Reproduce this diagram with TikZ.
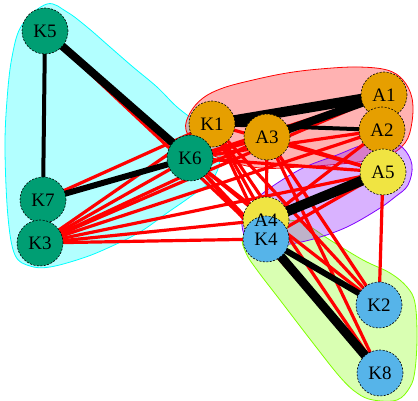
\documentclass[tikz,border=0pt]{standalone}
\usepackage{fontspec}
\setmainfont{Liberation Serif}
\definecolor{kgreen}{HTML}{009E73}
\definecolor{korange}{HTML}{E69F00}
\definecolor{kyellow}{HTML}{F0E442}
\definecolor{kblue}{HTML}{56B4E9}
\definecolor{hred}{HTML}{FF0000}
\definecolor{hgreen}{HTML}{80FF00}
\definecolor{hcyan}{HTML}{00FFFF}
\definecolor{hpurple}{HTML}{8000FF}
\pgfdeclarelayer{hulls}
\pgfdeclarelayer{edges}
\pgfsetlayers{hulls,edges,main}
\begin{document}
\begin{tikzpicture}[x=1pt,y=1pt,
  vtx/.style={circle, draw=black, line width=0.6pt, dash pattern=on 2pt off 1.5pt,
    minimum size=46pt, inner sep=0pt, fill=#1},
  lbl/.style={inner sep=0pt, font=\fontsize{19}{19}\selectfont},
  hull/.style={fill=#1, fill opacity=0.3, draw=#1, line width=0.8pt},
  tie/.style={draw=red, line width=3.2pt},
  bond/.style={draw=black, line width=#1}]
\useasboundingbox (0,0) rectangle (418,401);

% vertex discs
\node[vtx=kgreen]  (K5) at (45,370) {};
\node[vtx=kgreen]  (K7) at (43,201) {};
\node[vtx=kgreen]  (K3) at (40,158) {};
\node[vtx=korange] (K1) at (212,277) {};
\node[vtx=kgreen]  (K6) at (190,243) {};
\node[vtx=korange] (A1) at (384,306) {};
\node[vtx=korange] (A2) at (382,271) {};
\node[vtx=korange] (A3) at (267,264) {};
\node[vtx=kyellow] (A5) at (383,229) {};
\node[vtx=kyellow] (A4) at (266,181) {};
\node[vtx=kblue]   (K4) at (266,162) {};
\node[vtx=kblue]   (K2) at (379,96) {};
\node[vtx=kblue]   (K8) at (380,28) {};

% vertex labels, set above all discs
\foreach \v in {K5,K7,K3,K1,K6,A1,A2,A3,A5,A4,K4,K2,K8}
  \node[lbl] (\v-name) at (\v.center) {\v};

% group hulls (traced in image coordinates, y downwards)
\begin{pgfonlayer}{hulls}
\begin{scope}[yshift=401pt, y=-1pt]
\draw[hull=hcyan] plot[smooth cycle, tension=0.6] coordinates {
  (47,4) (67,12) (87,27) (110,47) (133,67) (157,87) (177,107) (200,125)
  (216,142) (220,160) (212,180) (190,197) (167,213) (140,232) (110,247)
  (83,258) (50,267) (30,266) (15,255) (8,217) (5,150) (7,100) (12,57) (22,25)};
\draw[hull=hred] plot[smooth cycle, tension=0.6] coordinates {
  (190,113) (203,98) (223,88) (253,80) (287,73) (320,69) (357,67) (387,70)
  (403,80) (412,98) (412,122) (405,143) (385,157) (350,163) (300,167)
  (260,168) (225,160) (200,148) (186,130)};
\draw[hull=hgreen] plot[smooth cycle, tension=0.6] coordinates {
  (288,220) (307,225) (330,240) (363,260) (390,273) (407,287) (415,303)
  (417,337) (415,370) (410,387) (397,400) (373,400) (357,393) (340,377)
  (313,343) (280,300) (257,270) (246,253) (243,237) (260,222)};
\draw[hull=hpurple] plot[smooth cycle, tension=0.6] coordinates {
  (242,220) (250,205) (270,188) (303,168) (337,155) (363,145) (387,142)
  (403,148) (412,165) (408,185) (395,197) (377,210) (347,227) (317,238)
  (290,244) (262,246) (246,238)};
\end{scope}
\end{pgfonlayer}

% ties
\begin{pgfonlayer}{edges}
\foreach \a/\b in {K3/K6, K3/K1, K3/A3, K3/A1, K3/A2, K3/A5, K3/A4, K3/K4,
    K7/K1, K7/A3, K5/K4,
    K6/A3, K6/A1, K6/A2, K6/A5, K6/A4, K6/K4, K6/K2, K6/K8,
    K1/A4, K1/K4, K1/K2, K1/K8, K1/A5,
    A3/K4, A3/A5, A3/K2, A3/K8, A2/A4, A5/K2, A5/K4, K4/K2, K4/K8}
  \draw[tie] (\a.center) -- (\b.center);
\draw[bond=4pt]   (K5.center) -- (K7.center);
\draw[bond=8pt]   (K5.center) -- (K6.center);
\draw[bond=6pt]   (K7.center) -- (K6.center);
\draw[bond=10pt]  (K1.center) -- (A1.center);
\draw[bond=8pt]   (A3.center) -- (A1.center);
\draw[bond=4pt]   (K1.center) -- (A2.center);
\draw[bond=10pt]  (A4.center) -- (A5.center);
\draw[bond=6pt]   (K4.center) -- (K2.center);
\draw[bond=9pt]   (K4.center) -- (K8.center);
\end{pgfonlayer}
\end{tikzpicture}
\end{document}
